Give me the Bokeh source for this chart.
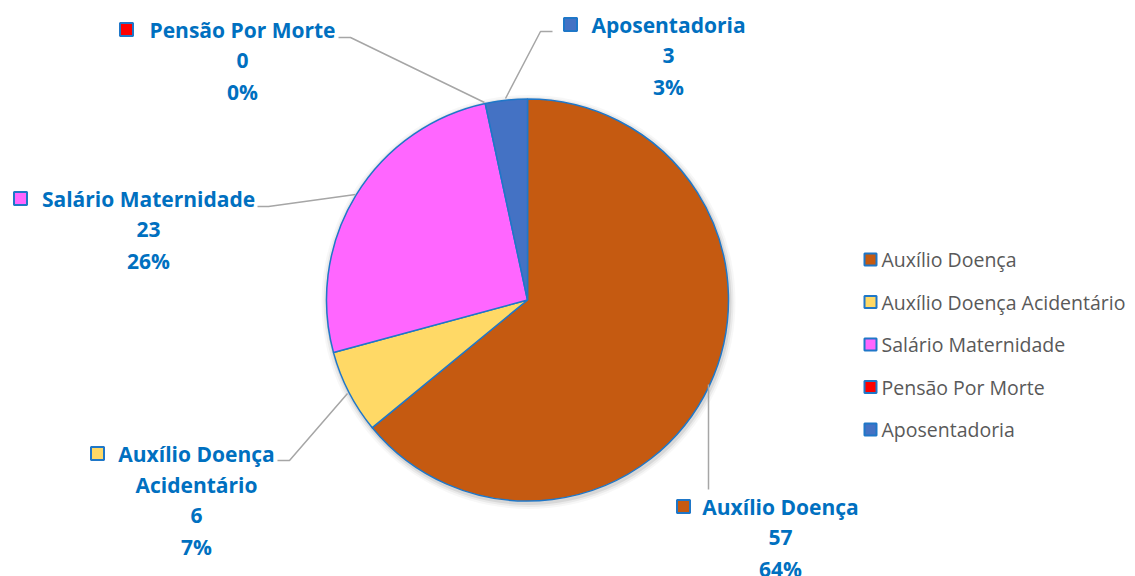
import math
from bokeh.plotting import figure
from bokeh.models import Range1d
from bokeh.core.properties import value
from bokeh.embed import file_html
from bokeh.resources import INLINE

# ---- data ----
categories = ["Auxílio Doença", "Auxílio Doença Acidentário", "Salário Maternidade",
              "Pensão Por Morte", "Aposentadoria"]
values = [57, 6, 23, 0, 3]
colors = ["#C55A11", "#FFD966", "#FF66FF", "#FF0000", "#4472C4"]

W, H = 1135, 576


def Y(ry):
    return H - ry


p = figure(width=W, height=H, output_backend="svg", toolbar_location=None,
           x_range=Range1d(0, W), y_range=Range1d(0, H), min_border=0)
p.axis.visible = False
p.grid.visible = False
p.outline_line_color = None
p.background_fill_color = "white"

cx, cy, R = 527, Y(299.5), 201

# soft shadow
for k, a in [(6, 0.03), (4, 0.05), (2, 0.08)]:
    p.circle(x=[cx + 1], y=[cy - 2], radius=R + k, radius_units="screen",
             fill_color="#000000", fill_alpha=a, line_color=None)

total = sum(values)
start = 0.0
starts, ends = [], []
for v in values:
    starts.append(math.pi / 2 - start / total * 2 * math.pi)
    start += v
    ends.append(math.pi / 2 - start / total * 2 * math.pi)

for i in range(len(values)):
    if values[i] == 0:
        continue
    p.wedge(x=[cx], y=[cy], radius=R, radius_units="screen",
            start_angle=[starts[i]], end_angle=[ends[i]], direction="clock",
            fill_color=colors[i], line_color="#1F77C8", line_width=1.5)

# ---- data labels ----
label_font = value("Open Sans")
blue = "#0070C0"
layout = {
    0: dict(cx=780, y0=506, mx=683, name=["Auxílio Doença"],
            lead=[(708, 384), (708, 489)]),
    1: dict(cx=196, y0=453, mx=97, name=["Auxílio Doença", "Acidentário"],
            lead=[(277, 460), (289, 460), (347, 393)]),
    2: dict(cx=148, y0=198, mx=20, name=["Salário Maternidade"],
            lead=[(257, 206), (268, 206), (355, 194)]),
    3: dict(cx=242, y0=29, mx=126, name=["Pensão Por Morte"],
            lead=[(338, 37), (350, 37), (484, 102)]),
    4: dict(cx=668, y0=24, mx=570, name=["Aposentadoria"],
            lead=[(552, 31), (540, 31), (505, 98)]),
}

line_h = 31
for i, cat in enumerate(categories):
    L = layout[i]
    pct = round(values[i] / total * 100)
    lines = L["name"] + [str(values[i]), f"{pct}%"]
    xs = [L["cx"]] * len(lines)
    ys = [Y(L["y0"] + j * line_h) for j in range(len(lines))]
    p.text(x=xs, y=ys, text=lines, text_font=label_font, text_font_style="bold",
           text_font_size="21px", text_color=blue, text_align="center",
           text_baseline="middle")
    p.scatter(x=[L["mx"]], y=[Y(L["y0"])], marker="square", size=13,
              fill_color=colors[i], line_color="#1F77C8", line_width=2)
    lx = [pt[0] for pt in L["lead"]]
    ly = [Y(pt[1]) for pt in L["lead"]]
    p.line(x=lx, y=ly, line_color="#A6A6A6", line_width=1.5)

# ---- legend ----
leg_y = [259, 301.5, 344, 386.5, 429]
for i, cat in enumerate(categories):
    p.scatter(x=[870], y=[Y(leg_y[i])], marker="square", size=12,
              fill_color=colors[i], line_color="#1F77C8", line_width=2)
    p.text(x=[881], y=[Y(leg_y[i])], text=[cat], text_font=value("Open Sans"),
           text_font_size="19.5px", text_color="#595959", text_align="left",
           text_baseline="middle")

open("out.html", "w").write(file_html(p, INLINE))
